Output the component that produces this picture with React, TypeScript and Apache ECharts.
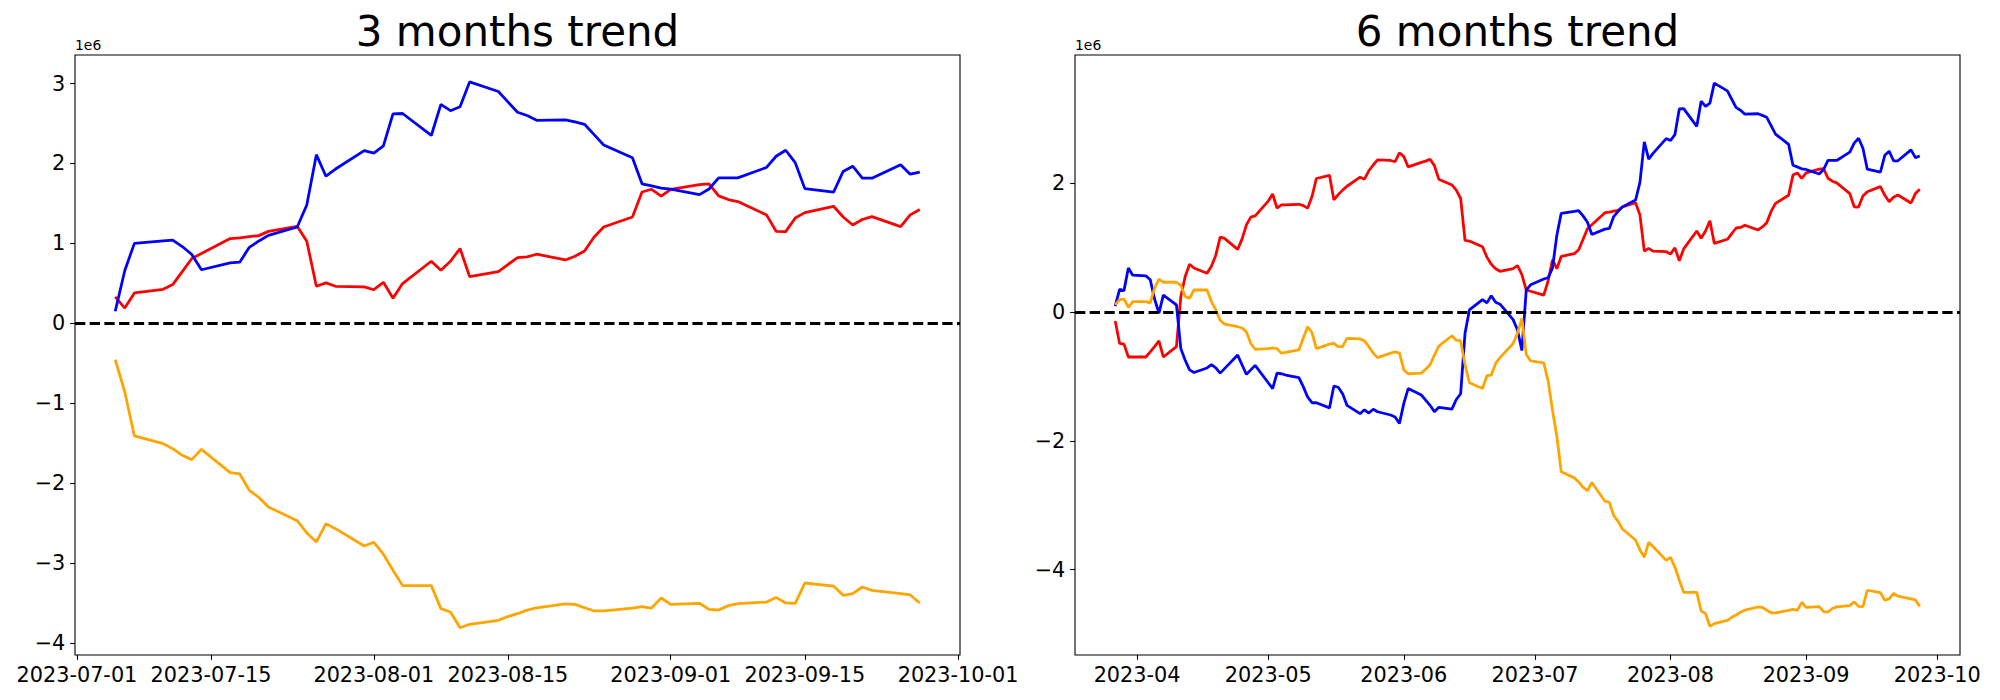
import React, { useEffect, useRef } from 'react';
import * as echarts from 'echarts';

// ---------- 3 months trend (values in units of 1e6) ----------
const dates3m = [
  '2023-07-05', '2023-07-06', '2023-07-07',
  '2023-07-10', '2023-07-11', '2023-07-12', '2023-07-13', '2023-07-14',
  '2023-07-17', '2023-07-18', '2023-07-19', '2023-07-20', '2023-07-21',
  '2023-07-24', '2023-07-25', '2023-07-26', '2023-07-27', '2023-07-28',
  '2023-07-31', '2023-08-01', '2023-08-02', '2023-08-03', '2023-08-04',
  '2023-08-07', '2023-08-08', '2023-08-09', '2023-08-10', '2023-08-11',
  '2023-08-14', '2023-08-15', '2023-08-16', '2023-08-17', '2023-08-18',
  '2023-08-21', '2023-08-22', '2023-08-23', '2023-08-24', '2023-08-25',
  '2023-08-28', '2023-08-29', '2023-08-30', '2023-08-31', '2023-09-01',
  '2023-09-04', '2023-09-05', '2023-09-06', '2023-09-07', '2023-09-08',
  '2023-09-11', '2023-09-12', '2023-09-13', '2023-09-14', '2023-09-15',
  '2023-09-18', '2023-09-19', '2023-09-20', '2023-09-21', '2023-09-22',
  '2023-09-25', '2023-09-26', '2023-09-27',
];

const blue3m = [
  0.15, 0.66, 1.0,
  1.03, 1.04, 0.96, 0.86, 0.67,
  0.755, 0.765, 0.95, 1.03, 1.1,
  1.205, 1.48, 2.11, 1.84, 1.93,
  2.16, 2.13, 2.22, 2.62, 2.625,
  2.35, 2.74, 2.66, 2.71, 3.02,
  2.9, 2.77, 2.64, 2.6, 2.54,
  2.545, 2.52, 2.49, 2.36, 2.23,
  2.07, 1.745, 1.72, 1.69, 1.68,
  1.61, 1.68, 1.82, 1.82, 1.82,
  1.95, 2.09, 2.165, 2.01, 1.685,
  1.64, 1.9, 1.965, 1.815, 1.815,
  1.985, 1.865, 1.89,
];

const red3m = [
  0.33, 0.19, 0.38,
  0.425, 0.484, 0.647, 0.81, 0.872,
  1.06, 1.07, 1.085, 1.097, 1.15,
  1.214, 1.026, 0.463, 0.505, 0.463,
  0.455, 0.42, 0.513, 0.313, 0.497,
  0.776, 0.663, 0.776, 0.935, 0.584,
  0.647, 0.735, 0.822, 0.83, 0.864,
  0.792, 0.838, 0.905, 1.08, 1.205,
  1.33, 1.643, 1.677, 1.59, 1.677,
  1.735, 1.744, 1.594, 1.548, 1.523,
  1.356, 1.151, 1.147, 1.318, 1.385,
  1.464, 1.33, 1.23, 1.298, 1.335,
  1.21, 1.356, 1.423,
];

const orange3m = [
  -0.455, -0.86, -1.41,
  -1.506, -1.569, -1.652, -1.706, -1.577,
  -1.869, -1.886, -2.09, -2.18, -2.3,
  -2.47, -2.624, -2.737, -2.507, -2.57,
  -2.787, -2.741, -2.89, -3.09, -3.283,
  -3.283, -3.571, -3.613, -3.81, -3.767,
  -3.717, -3.67, -3.634, -3.59, -3.56,
  -3.51, -3.517, -3.56, -3.6, -3.6,
  -3.563, -3.546, -3.563, -3.438, -3.517,
  -3.504, -3.58, -3.588, -3.533, -3.508,
  -3.488, -3.43, -3.5, -3.504, -3.25,
  -3.288, -3.404, -3.383, -3.3, -3.342,
  -3.383, -3.4, -3.5,
];

// ---------- 6 months trend (values in units of 1e6) ----------
const datesEarly6m = [
  '2023-03-27', '2023-03-28', '2023-03-29', '2023-03-30', '2023-03-31',
  '2023-04-03', '2023-04-04', '2023-04-05', '2023-04-06', '2023-04-07',
  '2023-04-10', '2023-04-11', '2023-04-12', '2023-04-13', '2023-04-14',
  '2023-04-17', '2023-04-18', '2023-04-19', '2023-04-20', '2023-04-21',
  '2023-04-24', '2023-04-25', '2023-04-26', '2023-04-27', '2023-04-28',
  '2023-05-01', '2023-05-02', '2023-05-03', '2023-05-04', '2023-05-05',
  '2023-05-08', '2023-05-09', '2023-05-10', '2023-05-11', '2023-05-12',
  '2023-05-15', '2023-05-16', '2023-05-17', '2023-05-18', '2023-05-19',
  '2023-05-22', '2023-05-23', '2023-05-24', '2023-05-25', '2023-05-26',
  '2023-05-29', '2023-05-30', '2023-05-31', '2023-06-01', '2023-06-02',
  '2023-06-05', '2023-06-06', '2023-06-07', '2023-06-08', '2023-06-09',
  '2023-06-12', '2023-06-13', '2023-06-14', '2023-06-15', '2023-06-16',
  '2023-06-19', '2023-06-20', '2023-06-21', '2023-06-22', '2023-06-23',
  '2023-06-26', '2023-06-27', '2023-06-28', '2023-06-29', '2023-06-30',
  '2023-07-03', '2023-07-04',
];
const dates6m = datesEarly6m.concat(dates3m);

const blue6m = [
  0.09, 0.35, 0.33, 0.68, 0.57,
  0.56, 0.5, 0.2, -0.02, 0.26,
  0.11, -0.57, -0.75, -0.9, -0.94,
  -0.87, -0.82, -0.87, -0.95, -0.88,
  -0.67, -0.82, -0.97, -0.9, -0.83,
  -1.1, -1.19, -0.95, -0.96, -0.98,
  -1.02, -1.16, -1.32, -1.41, -1.41,
  -1.49, -1.15, -1.17, -1.27, -1.45,
  -1.58, -1.52, -1.57, -1.51, -1.55,
  -1.6, -1.63, -1.73, -1.42, -1.19,
  -1.29, -1.37, -1.45, -1.55, -1.48,
  -1.51, -1.36, -1.27, -0.33, 0.03,
  0.19, 0.14, 0.25, 0.15, 0.12,
  -0.12, -0.28, -0.6, 0.34, 0.42,
  0.51, 0.53,
  0.68, 1.19, 1.53,
  1.56, 1.57, 1.49, 1.39, 1.2,
  1.285, 1.295, 1.48, 1.56, 1.63,
  1.735, 2.01, 2.64, 2.37, 2.46,
  2.69, 2.66, 2.75, 3.15, 3.155,
  2.88, 3.27, 3.19, 3.24, 3.55,
  3.43, 3.3, 3.17, 3.13, 3.07,
  3.075, 3.05, 3.02, 2.89, 2.76,
  2.6, 2.275, 2.25, 2.22, 2.21,
  2.14, 2.21, 2.35, 2.35, 2.35,
  2.48, 2.62, 2.695, 2.54, 2.215,
  2.17, 2.43, 2.495, 2.345, 2.345,
  2.515, 2.395, 2.42,
];

const red6m = [
  -0.14, -0.49, -0.5, -0.7, -0.7,
  -0.7, -0.62, -0.54, -0.45, -0.7,
  -0.54, 0.24, 0.55, 0.74, 0.68,
  0.6, 0.71, 0.88, 1.16, 1.14,
  0.97, 1.13, 1.35, 1.47, 1.49,
  1.72, 1.83, 1.61, 1.66, 1.66,
  1.67, 1.65, 1.61, 1.79, 2.07,
  2.12, 1.74, 1.82, 1.89, 1.95,
  2.09, 2.06, 2.19, 2.28, 2.36,
  2.35, 2.33, 2.47, 2.41, 2.25,
  2.32, 2.34, 2.37, 2.27, 2.06,
  1.97, 1.89, 1.76, 1.11, 1.1,
  1.01, 0.85, 0.74, 0.67, 0.63,
  0.67, 0.72, 0.58, 0.34, 0.32,
  0.26, 0.48,
  0.81, 0.67, 0.86,
  0.905, 0.964, 1.127, 1.29, 1.352,
  1.54, 1.55, 1.565, 1.577, 1.63,
  1.694, 1.506, 0.943, 0.985, 0.943,
  0.935, 0.9, 0.993, 0.793, 0.977,
  1.256, 1.143, 1.256, 1.415, 1.064,
  1.127, 1.215, 1.302, 1.31, 1.344,
  1.272, 1.318, 1.385, 1.56, 1.685,
  1.81, 2.123, 2.157, 2.07, 2.157,
  2.215, 2.224, 2.074, 2.028, 2.003,
  1.836, 1.631, 1.627, 1.798, 1.865,
  1.944, 1.81, 1.71, 1.778, 1.815,
  1.69, 1.836, 1.903,
];

const orange6m = [
  0.11, 0.19, 0.2, 0.07, 0.16,
  0.16, 0.14, 0.37, 0.51, 0.46,
  0.46, 0.41, 0.24, 0.21, 0.34,
  0.34, 0.16, 0.03, -0.13, -0.19,
  -0.23, -0.25, -0.31, -0.49, -0.58,
  -0.57, -0.56, -0.57, -0.64, -0.63,
  -0.59, -0.41, -0.23, -0.32, -0.57,
  -0.5, -0.49, -0.54, -0.54, -0.41,
  -0.42, -0.45, -0.54, -0.64, -0.71,
  -0.64, -0.62, -0.64, -0.9, -0.96,
  -0.95, -0.89, -0.82, -0.67, -0.53,
  -0.37, -0.44, -0.45, -0.82, -1.1,
  -1.19, -0.99, -0.98, -0.8, -0.71,
  -0.49, -0.33, -0.1, -0.66, -0.76,
  -0.79, -1.07,
  -1.525, -1.93, -2.48,
  -2.576, -2.639, -2.722, -2.776, -2.647,
  -2.939, -2.956, -3.16, -3.25, -3.37,
  -3.54, -3.694, -3.807, -3.577, -3.64,
  -3.857, -3.811, -3.96, -4.16, -4.353,
  -4.353, -4.641, -4.683, -4.88, -4.837,
  -4.787, -4.74, -4.704, -4.66, -4.63,
  -4.58, -4.587, -4.63, -4.67, -4.67,
  -4.633, -4.616, -4.633, -4.508, -4.587,
  -4.574, -4.65, -4.658, -4.603, -4.578,
  -4.558, -4.5, -4.57, -4.574, -4.32,
  -4.358, -4.474, -4.453, -4.37, -4.412,
  -4.453, -4.47, -4.57,
];

// ---------- ticks ----------
const xTicks3m = ['2023-07-01', '2023-07-15', '2023-08-01', '2023-08-15', '2023-09-01', '2023-09-15', '2023-10-01'];
const xTickLabels3m = ['2023-07-01', '2023-07-15', '2023-08-01', '2023-08-15', '2023-09-01', '2023-09-15', '2023-10-01'];
const xTicks6m = ['2023-04-01', '2023-05-01', '2023-06-01', '2023-07-01', '2023-08-01', '2023-09-01', '2023-10-01'];
const xTickLabels6m = ['2023-04', '2023-05', '2023-06', '2023-07', '2023-08', '2023-09', '2023-10'];
const yTicks3m = [-4, -3, -2, -1, 0, 1, 2, 3];
const yTicks6m = [-4, -2, 0, 2];

const titles = ['3 months trend', '6 months trend'];
const offsetText = '1e6';

const FONT = '"DejaVu Sans", "Liberation Sans", sans-serif';
const DAY = 86400000;

function ts(s: string): number {
  const [y, m, d] = s.split('-').map(Number);
  return Date.UTC(y, m - 1, d);
}

function pairs(dates: string[], vals: number[]) {
  return dates.map((d, i) => [ts(d), vals[i]]);
}

function yFmt(v: number) {
  const r = Math.round(v);
  return r < 0 ? '\u2212' + String(-r) : String(r);
}

export default function App() {
  const ref = useRef<HTMLDivElement>(null);

  useEffect(() => {
    if (!ref.current) return;
    const chart = echarts.init(ref.current, undefined, { renderer: 'svg' });

    const grids = [
      { left: 75, top: 55, width: 885, height: 600 },
      { left: 1075, top: 55, width: 885, height: 600 },
    ];

    const xTickTs3 = xTicks3m.map(ts);
    const xTickTs6 = xTicks6m.map(ts);

    const xRange = (dates: string[]) => {
      const a = ts(dates[0]);
      const b = ts(dates[dates.length - 1]);
      const m = (b - a) * 0.05;
      return [a - m, b + m];
    };
    const xr3 = xRange(dates3m);
    const xr6 = xRange(dates6m);

    const axisTickStyle = { color: '#000', width: 1.1 };
    const labelStyle = { color: '#000', fontSize: 20.8, fontFamily: FONT };

    const makeX = (gi: number, range: number[], tickTs: number[], labels: string[]) => ({
      gridIndex: gi,
      type: 'value',
      min: range[0],
      max: range[1],
      scale: true,
      axisLine: { show: false, onZero: false },
      splitLine: { show: false },
      axisTick: { show: true, length: 4.86, lineStyle: axisTickStyle, customValues: tickTs },
      axisLabel: {
        ...labelStyle,
        margin: 9,
        customValues: tickTs,
        hideOverlap: false,
        showMinLabel: true,
        showMaxLabel: true,
        formatter: (v: number) => {
          let best = 0;
          let bd = Infinity;
          tickTs.forEach((t, i) => {
            const d = Math.abs(t - v);
            if (d < bd) { bd = d; best = i; }
          });
          return bd < DAY ? labels[best] : '';
        },
      },
    });

    const makeY = (gi: number, min: number, max: number, ticks: number[]) => ({
      gridIndex: gi,
      type: 'value',
      min,
      max,
      axisLine: { show: false, onZero: false },
      splitLine: { show: false },
      axisTick: { show: true, length: 4.86, lineStyle: axisTickStyle, customValues: ticks },
      axisLabel: { ...labelStyle, margin: 9.7, customValues: ticks, formatter: yFmt },
    });

    const zeroLine = {
      silent: true,
      symbol: ['none', 'none'],
      label: { show: false },
      lineStyle: { color: '#000', width: 2.78, type: [10.3, 4.4] },
      data: [{ yAxis: 0 }],
    };

    const line = (gi: number, name: string, color: string, data: any[], withZero: boolean) => ({
      type: 'line',
      name,
      xAxisIndex: gi,
      yAxisIndex: gi,
      data,
      showSymbol: false,
      symbol: 'none',
      lineStyle: { color, width: 2.78 },
      itemStyle: { color },
      emphasis: { disabled: true },
      z: 2,
      ...(withZero ? { markLine: zeroLine } : {}),
    });

    const titleText = (x: number, text: string) => ({
      type: 'text',
      x,
      y: 31,
      style: {
        text,
        fill: '#000',
        fontSize: 42,
        fontFamily: FONT,
        align: 'center',
        verticalAlign: 'middle',
        textAlign: 'center',
        textVerticalAlign: 'middle',
      },
    });
    const offText = (x: number) => ({
      type: 'text',
      x,
      y: 52,
      style: {
        text: offsetText,
        fill: '#000',
        fontSize: 13.9,
        fontFamily: FONT,
        align: 'left',
        verticalAlign: 'bottom',
        textAlign: 'left',
        textVerticalAlign: 'bottom',
      },
    });

    chart.setOption({
      animation: false,
      backgroundColor: '#fff',
      grid: grids.map((g) => ({ ...g, show: true, borderColor: '#000', borderWidth: 1.1, backgroundColor: 'transparent', containLabel: false })),
      xAxis: [makeX(0, xr3, xTickTs3, xTickLabels3m), makeX(1, xr6, xTickTs6, xTickLabels6m)],
      yAxis: [makeY(0, -4.151, 3.357, yTicks3m), makeY(1, -5.325, 3.987, yTicks6m)],
      series: [
        line(0, 'red', '#ff0000', pairs(dates3m, red3m), true),
        line(0, 'blue', '#0000ff', pairs(dates3m, blue3m), false),
        line(0, 'orange', '#ffa500', pairs(dates3m, orange3m), false),
        line(1, 'red', '#ff0000', pairs(dates6m, red6m), true),
        line(1, 'blue', '#0000ff', pairs(dates6m, blue6m), false),
        line(1, 'orange', '#ffa500', pairs(dates6m, orange6m), false),
      ],
      graphic: [
        titleText(75 + 885 / 2, titles[0]),
        titleText(1075 + 885 / 2, titles[1]),
        offText(75),
        offText(1075),
      ],
    });

    return () => chart.dispose();
  }, []);

  return (
    <div
      ref={ref}
      style={{ position: 'absolute', left: 0, top: 0, width: 2000, height: 700, background: '#fff' }}
    />
  );
}
